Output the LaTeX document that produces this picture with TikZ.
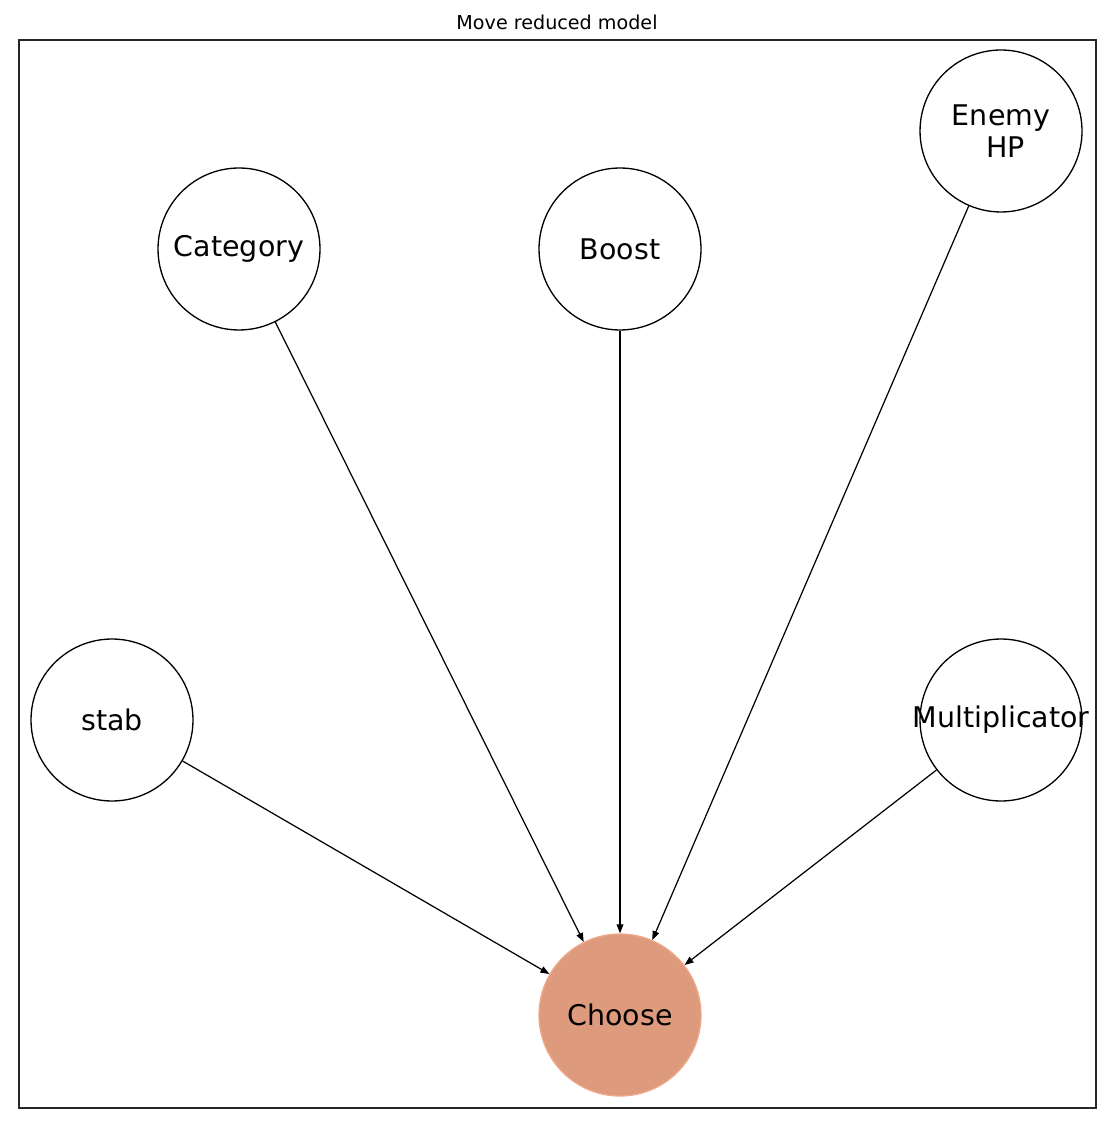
\documentclass[tikz,border=0pt]{standalone}
\usepackage{fontspec}
\setmainfont{DejaVu Sans}
\usetikzlibrary{arrows.meta}
\definecolor{choosefill}{HTML}{DD9A7D}
\definecolor{chooseedge}{HTML}{EFA98A}

\begin{document}
\begin{tikzpicture} [x=0.02cm,y=-0.02cm,
  var/.style={circle,draw,line width=0.75pt,minimum size=3.24cm,inner sep=0pt,
    align=center,font=\fontsize{16.2}{18.2}\selectfont},
  dep/.style={-{Triangle[length=1.8mm,width=1.35mm]},line width=0.7pt}]
\useasboundingbox (0,0) rectangle (1118,1124);
\node [font=\fontsize{10.9}{13}\selectfont] (title) at (557,22) {Move reduced model};
\draw [line width=0.75pt,black!85] (19,40) rectangle (1096,1108);
\node [var] (cat) at (239,249) {Category};
\node [var] (boost) at (620,249) {Boost};
\node [var] (hp) at (1001,131) {Enemy\\\ HP};
\node [var] (stab) at (112,720) {stab};
\node [var] (mult) at (1001,720) {\makebox[0pt]{Multiplicator}};
\node [var,fill=choosefill,draw=chooseedge] (choose) at (620,1015) {Choose};
\draw [dep] (cat) -- (choose);
\draw [dep] (boost) -- (choose);
\draw [dep] (hp) -- (choose);
\draw [dep] (stab) -- (choose);
\draw [dep] (mult) -- (choose);
\end{tikzpicture}
\end{document}
